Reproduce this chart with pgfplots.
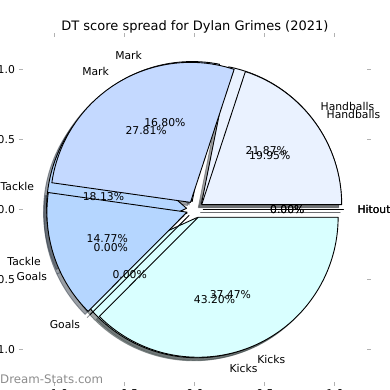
\documentclass[border=0pt]{standalone}
\usepackage{pgfplots}
\pgfplotsset{compat=1.18}
\usepackage{pgfplotstable}
\usepackage{fontspec}
\setmainfont{DejaVu Sans}

\definecolor{cHand}{RGB}{234,242,255}
\definecolor{cMark}{RGB}{196,217,255}
\definecolor{cTack}{RGB}{181,214,255}
\definecolor{cGoal}{RGB}{200,228,255}
\definecolor{cKick}{RGB}{217,255,255}
\definecolor{cHit}{RGB}{225,235,255}

% pie drawn first (underneath)
\pgfplotstableread{
name pct col
Handballs 21.87 cHand
Mark 16.80 cMark
Tackle 18.13 cTack
Goals 0.00 cGoal
Kicks 43.20 cKick
Hitout 0.00 cHit
}\pieA
% pie drawn on top
\pgfplotstableread{
name pct col
Handballs 19.95 cHand
Mark 27.81 cMark
Tackle 14.77 cTack
Goals 0.00 cGoal
Kicks 37.47 cKick
Hitout 0.00 cHit
}\pieB

\newcommand\lbl{\fontsize{10.8}{13}\selectfont}
\def\expl{0.06}
\def\shoff{0.0217}

% #1 table, #2 row : computes wedge geometry and advances \cum
\newcommand\getwedge[2]{%
  \pgfplotstablegetelem{#2}{pct}\of{#1}\let\wp\pgfplotsretval
  \pgfplotstablegetelem{#2}{col}\of{#1}\let\wc\pgfplotsretval
  \pgfplotstablegetelem{#2}{name}\of{#1}\let\wn\pgfplotsretval
  \pgfmathsetmacro\aS{3.6*\cum}%
  \pgfmathsetmacro\aE{3.6*(\cum+\wp)}%
  \pgfmathsetmacro\aM{(\aS+\aE)/2}%
  \pgfmathsetmacro\cx{\expl*cos(\aM)}%
  \pgfmathsetmacro\cy{\expl*sin(\aM)}%
  \pgfmathsetmacro\sx{\cx-\shoff}%
  \pgfmathsetmacro\sy{\cy-\shoff}%
  \pgfmathsetmacro\lx{(1.1+\expl)*cos(\aM)}%
  \pgfmathsetmacro\ly{(1.1+\expl)*sin(\aM)}%
  \pgfmathsetmacro\qx{(0.6+\expl)*cos(\aM)}%
  \pgfmathsetmacro\qy{(0.6+\expl)*sin(\aM)}%
  \pgfmathsetmacro\cum{\cum+\wp}%
}

% #1 table, #2 mode (0 shadow, 1 wedge, 2 texts)
\newcommand\drawpie[2]{%
  \def\cum{0}%
  \pgfplotstablegetrowsof{#1}\pgfmathtruncatemacro\nr{\pgfplotsretval-1}%
  \pgfplotsforeachungrouped \k in {0,...,\nr}{%
    \getwedge{#1}{\k}%
    \ifcase#2
      \edef\cmd{\noexpand\fill[fill=\wc!30!black,draw=\wc!30!black,opacity=0.5,line width=0.9pt]
        (axis cs:\sx,\sy) -- ++(\aS:140pt) arc[start angle=\aS,end angle=\aE,radius=140pt] -- cycle;}%
    \or
      \edef\cmd{\noexpand\filldraw[fill=\wc,draw=black,line width=0.9pt,line join=round]
        (axis cs:\cx,\cy) -- ++(\aS:140pt) arc[start angle=\aS,end angle=\aE,radius=140pt] -- cycle;}%
    \or
      \ifdim\lx pt>0pt \def\anc{west}\else\def\anc{east}\fi
      \edef\cmd{\noexpand\node[anchor=\anc,inner sep=0pt,font=\noexpand\lbl] at (axis cs:\lx,\ly) {\wn};
        \noexpand\node[anchor=center,inner sep=0pt,font=\noexpand\lbl] at (axis cs:\qx,\qy) {\wp\noexpand\%};}%
    \fi
    \cmd
  }%
}

\begin{document}
\begin{tikzpicture}
\begin{axis}[
  name=ax,
  x=140pt, y=140pt,
  xmin=-1.23, xmax=1.23, ymin=-1.23, ymax=1.23,
  axis line style={draw=none},
  tick align=outside,
  major tick length=3.8pt,
  tick style={draw=black!30, line width=1pt},
  xtick={-1,-0.5,0,0.5,1}, ytick={-1,-0.5,0,0.5,1},
  xticklabels={−1.0,−0.5,0.0,0.5,1.0},
  yticklabels={−1.0,−0.5,0.0,0.5,1.0},
  xtick pos=both, ytick pos=both,
  xticklabel pos=lower, yticklabel pos=left,
  ticklabel style={font=\lbl, inner sep=0pt},
  yticklabel style={anchor=east, xshift=-3.8pt},
  xticklabel style={anchor=north, yshift=-3.8pt},
  clip=false,
]
\drawpie{\pieA}{0}
\drawpie{\pieB}{0}
\drawpie{\pieA}{1}
\drawpie{\pieB}{1}
\drawpie{\pieA}{2}
\drawpie{\pieB}{2}
\node[anchor=base, font=\fontsize{13}{15}\selectfont] at (rel axis cs:0.5,1) [yshift=6.8pt] {DT score spread for Dylan Grimes (2021)};
\node[anchor=west, inner sep=0pt, font=\fontsize{11.8}{14}\selectfont, text=black!45] at (rel axis cs:0,0) [xshift=-22.7pt, yshift=2pt] {Dream-Stats.com};
\end{axis}
\pgfresetboundingbox
\path[use as bounding box] ([xshift=-22.7pt,yshift=-8.3pt]ax.south west) rectangle ([xshift=22.9pt,yshift=37.3pt]ax.north east);
\end{tikzpicture}
\end{document}
